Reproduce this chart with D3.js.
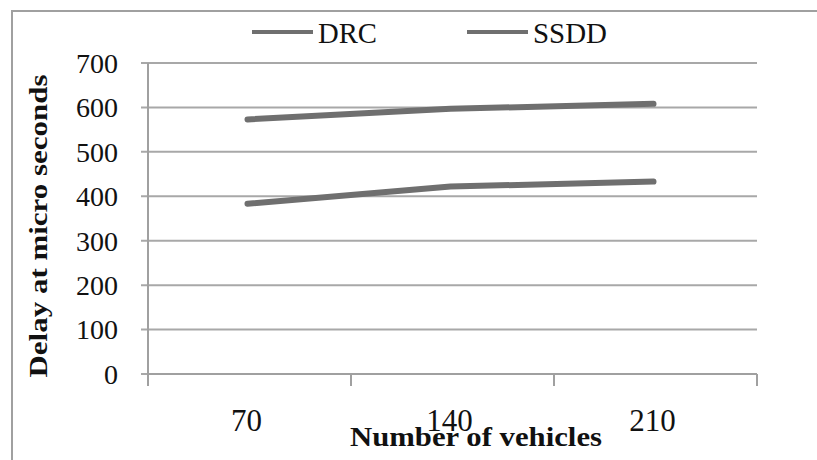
<!DOCTYPE html>
<html>
<head>
<meta charset="utf-8">
<script src="https://cdn.jsdelivr.net/npm/d3@7"></script>
<style>
  html, body { margin: 0; padding: 0; background: #fff; }
  svg { display: block; }
  text { font-family: "Liberation Serif", "Times New Roman", serif; fill: #111; }
</style>
</head>
<body>
<svg id="chart" width="817" height="460"></svg>
<script>
const categories = ["70", "140", "210"];
const seriesNames = ["DRC", "SSDD"];
const drcValues = [383, 422, 433];
const ssddValues = [573, 597, 608];
const yTicks = [0, 100, 200, 300, 400, 500, 600, 700];
const xTitle = "Number of vehicles";
const yTitle = "Delay at micro seconds";

const series = [
  { name: seriesNames[0], values: drcValues },
  { name: seriesNames[1], values: ssddValues }
];

const svg = d3.select("#chart");
const W = 817, H = 460;
const plot = { left: 148, right: 757, top: 63, bottom: 374 };

// outer frame (only top and left edges visible)
svg.append("rect")
  .attr("x", 12).attr("y", 11)
  .attr("width", W + 20).attr("height", H + 20)
  .attr("fill", "none").attr("stroke", "#a0a0a0").attr("stroke-width", 2);

const x = d3.scaleBand().domain(categories).range([plot.left, plot.right]).padding(0);
const y = d3.scaleLinear().domain([0, 700]).range([plot.bottom, plot.top]);

// gridlines
svg.append("g").selectAll("line").data(yTicks).join("line")
  .attr("x1", plot.left - 7).attr("x2", plot.right)
  .attr("y1", d => y(d)).attr("y2", d => y(d))
  .attr("stroke", "#a8a8a8").attr("stroke-width", 2);

// y axis line
svg.append("line")
  .attr("x1", plot.left).attr("x2", plot.left)
  .attr("y1", y(700)).attr("y2", plot.bottom + 12)
  .attr("stroke", "#a0a0a0").attr("stroke-width", 2);

// y tick labels
svg.append("g").selectAll("text").data(yTicks).join("text")
  .attr("x", 118).attr("y", d => y(d))
  .attr("dy", "0.35em")
  .attr("text-anchor", "end")
  .attr("font-size", 28)
  .attr("fill", "#222")
  .text(d => d);

// x axis
const xAxisG = svg.append("g").attr("transform", `translate(0,${plot.bottom})`);
const boundaries = [plot.left].concat(categories.map(c => x(c) + x.bandwidth()));
xAxisG.append("line")
  .attr("x1", plot.left).attr("x2", plot.right)
  .attr("y1", 0).attr("y2", 0)
  .attr("stroke", "#a0a0a0").attr("stroke-width", 2);
xAxisG.selectAll("line.tick").data(boundaries).join("line")
  .attr("class", "tick")
  .attr("x1", d => d).attr("x2", d => d)
  .attr("y1", 0).attr("y2", 12)
  .attr("stroke", "#a0a0a0").attr("stroke-width", 2);
xAxisG.selectAll("text").data(categories).join("text")
  .attr("x", d => x(d) + x.bandwidth() / 2 - 3)
  .attr("y", 57)
  .attr("text-anchor", "middle")
  .attr("font-size", 31)
  .attr("fill", "#222")
  .text(d => d);

// lines
const line = d3.line()
  .x((d, i) => x(categories[i]) + x.bandwidth() / 2 - 2)
  .y(d => y(d));

svg.append("g").selectAll("path").data(series).join("path")
  .attr("d", d => line(d.values))
  .attr("fill", "none")
  .attr("stroke", "#6f6f6f")
  .attr("stroke-width", 6)
  .attr("stroke-linecap", "round")
  .attr("stroke-linejoin", "round");

// legend
const legendItems = [
  { name: seriesNames[0], x1: 252, x2: 313, tx: 318, tw: 59 },
  { name: seriesNames[1], x1: 467, x2: 528, tx: 533, tw: 74 }
];
const lg = svg.append("g");
legendItems.forEach(it => {
  lg.append("line")
    .attr("x1", it.x1).attr("x2", it.x2)
    .attr("y1", 32).attr("y2", 32)
    .attr("stroke", "#6f6f6f").attr("stroke-width", 4);
  lg.append("text")
    .attr("x", it.tx).attr("y", 43)
    .attr("font-size", 29)
    .attr("textLength", it.tw)
    .attr("lengthAdjust", "spacingAndGlyphs")
    .attr("fill", "#222")
    .text(it.name);
});

// axis titles
svg.append("text")
  .attr("x", 476).attr("y", 446)
  .attr("text-anchor", "middle")
  .attr("font-size", 27)
  .attr("font-weight", "bold")
  .attr("textLength", 252)
  .attr("lengthAdjust", "spacingAndGlyphs")
  .attr("fill", "#111")
  .text(xTitle);

svg.append("text")
  .attr("transform", `translate(47,226) rotate(-90)`)
  .attr("text-anchor", "middle")
  .attr("font-size", 26)
  .attr("font-weight", "bold")
  .attr("textLength", 303)
  .attr("lengthAdjust", "spacingAndGlyphs")
  .attr("fill", "#111")
  .text(yTitle);
</script>
</body>
</html>
